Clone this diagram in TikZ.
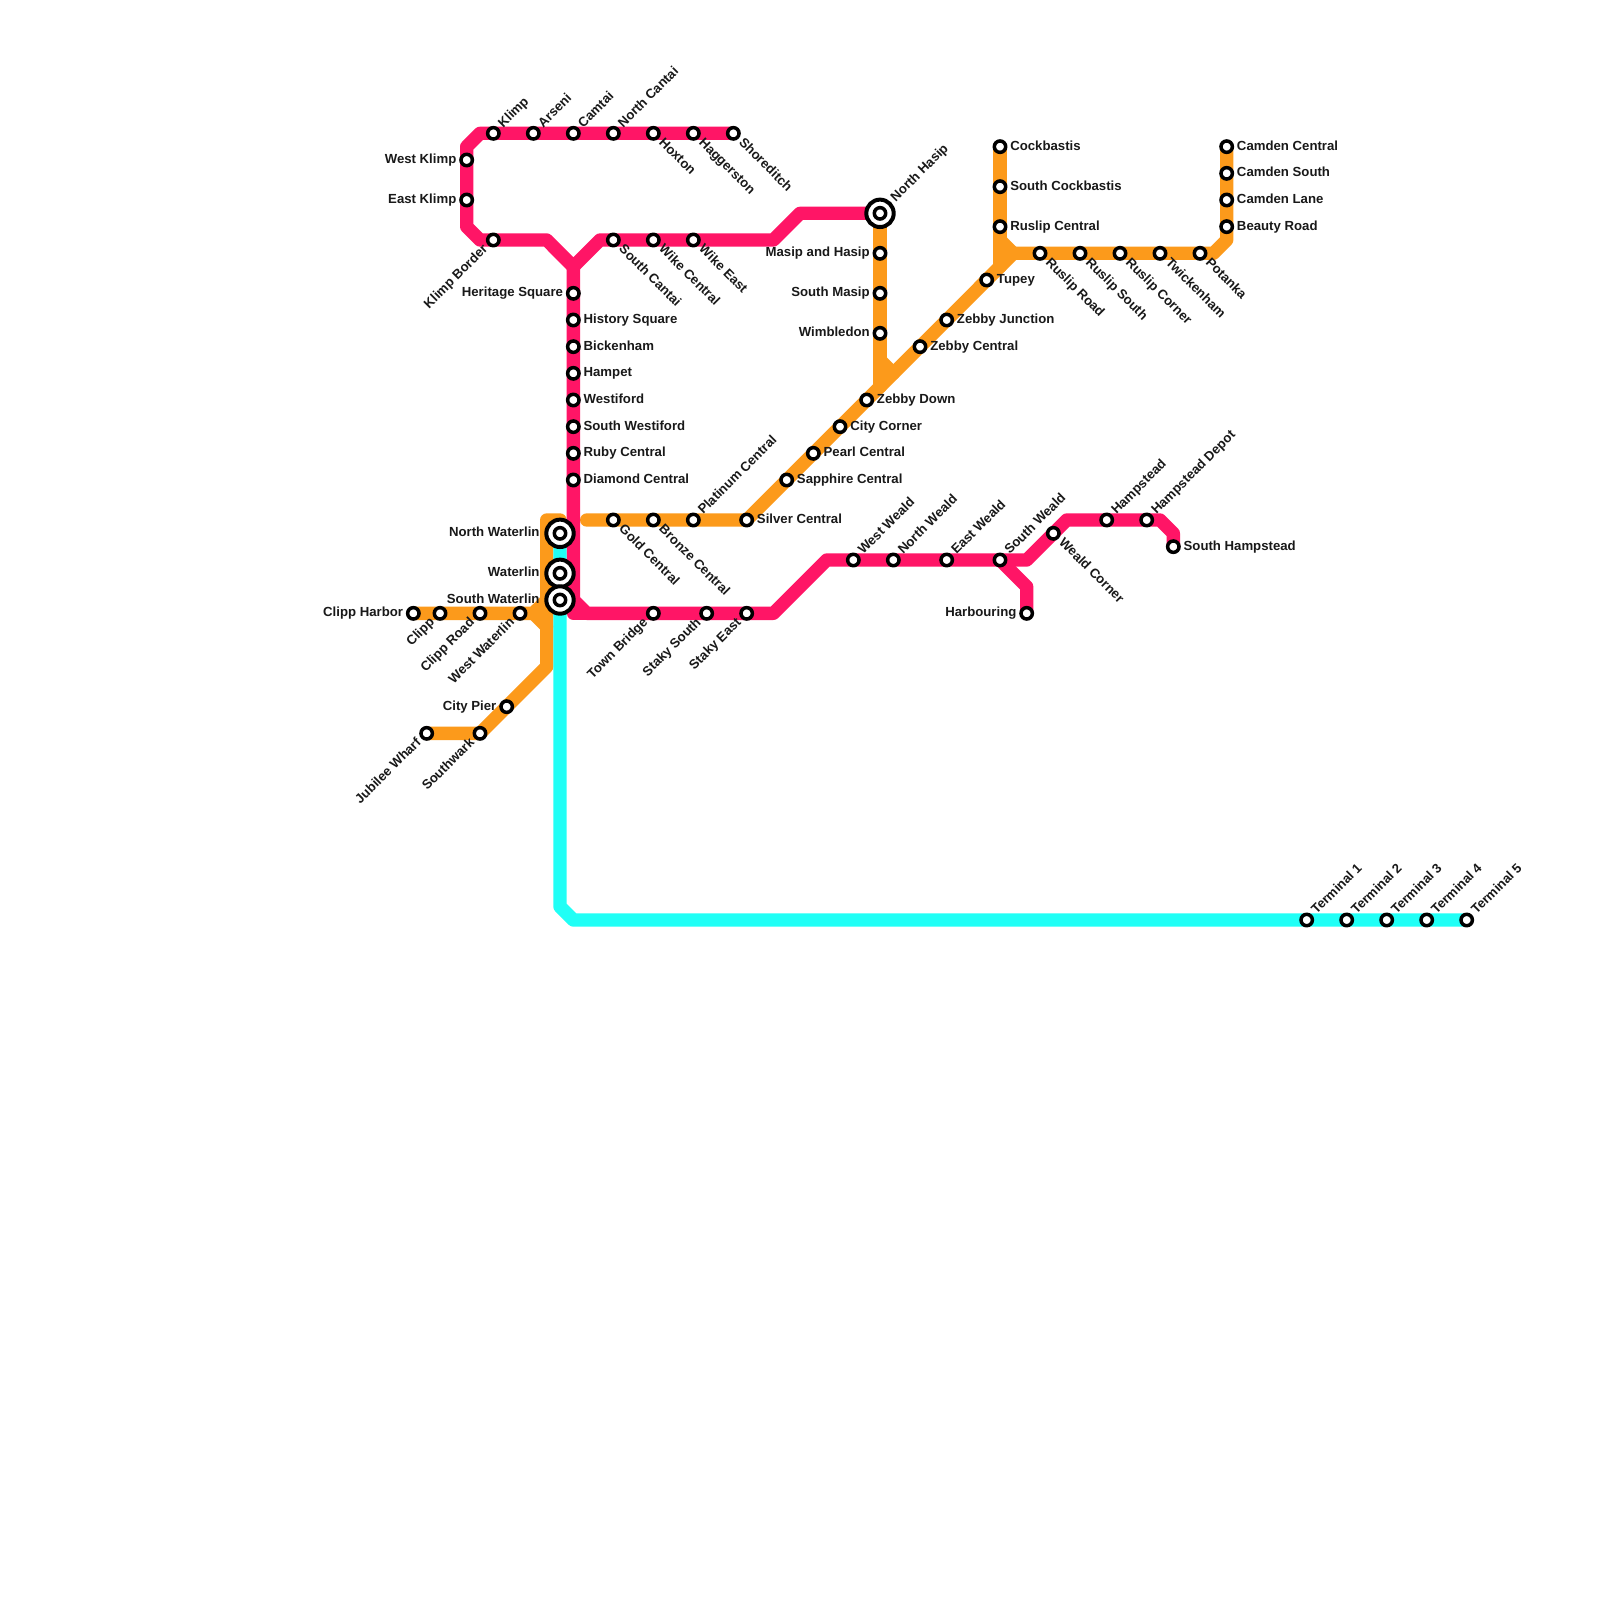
\documentclass[tikz,border=0pt]{standalone}
\usepackage{fontspec}
\setmainfont{Liberation Sans}
\usetikzlibrary{backgrounds}
\definecolor{lpink}{HTML}{FF1566}
\definecolor{lorange}{HTML}{FC9A1B}
\definecolor{lcyan}{HTML}{20FFF6}
\newcommand{\px}{0.01cm}
\tikzset{
 x=0.01cm,y=-0.01cm,
 lineb/.style={line width=13.33*\px,line cap=round,line join=round},
 pinkline/.style={lineb,draw=lpink},
 orangeline/.style={lineb,draw=lorange},
 cyanline/.style={lineb,draw=lcyan},
 stop/.style={circle,draw=black,fill=white,line width=3.5*\px,minimum size=11.4*\px,inner sep=0pt,outer sep=0pt},
 hub/.style={circle,draw=black,fill=white,line width=4*\px,minimum size=27.4*\px,inner sep=0pt,outer sep=0pt},
 lab/.style={inner sep=0pt,text=black!90},
 lR/.style={lab,anchor=mid west,xshift=9.6*\px},
 lL/.style={lab,anchor=mid east,xshift=-9.6*\px},
 lLL/.style={lab,anchor=mid east,xshift=-19.8*\px},
 lUR/.style={lab,anchor=mid west,xshift=7*\px,yshift=7*\px,rotate=45},
 lUU/.style={lab,anchor=mid west,xshift=13*\px,yshift=13*\px,rotate=45},
 lDR/.style={lab,anchor=mid west,xshift=7*\px,yshift=-7*\px,rotate=-45},
 lDL/.style={lab,anchor=mid east,xshift=-7*\px,yshift=-7*\px,rotate=45},
}
\newcommand{\stn}[5]{\node[stop] (#1) at (#2,#3) {};\node[#4] (#1-t) at (#2,#3) {#5};}
\newcommand{\hubstn}[5]{\node[hub] (#1) at (#2,#3) {};\node[stop] (#1-i) at (#2,#3) {};\node[#4] (#1-t) at (#2,#3) {#5};}
\begin{document}
\begin{tikzpicture}
\fontsize{3.75pt}{4pt}\selectfont\bfseries
\useasboundingbox (0,0) rectangle (1600,1600);
% top pink
\stn{klimp}{493.33}{133.33}{lUR}{Klimp}
\stn{arseni}{533.33}{133.33}{lUR}{Arseni}
\stn{camtai}{573.33}{133.33}{lUR}{Camtai}
\stn{ncantai}{613.33}{133.33}{lUR}{North Cantai}
\stn{hoxton}{653.33}{133.33}{lDR}{Hoxton}
\stn{hagg}{693.33}{133.33}{lDR}{Haggerston}
\stn{shore}{733.33}{133.33}{lDR}{Shoreditch}
\stn{wklimp}{466.67}{160}{lL}{West Klimp}
\stn{eklimp}{466.67}{200}{lL}{East Klimp}
\stn{kborder}{493.33}{240}{lDL}{Klimp Border}
\stn{scantai}{613.33}{240}{lDR}{South Cantai}
\stn{wikec}{653.33}{240}{lDR}{Wike Central}
\stn{wikee}{693.33}{240}{lDR}{Wike East}
\hubstn{nhasip}{880}{213.33}{lUU}{North Hasip}
\stn{masip}{880}{253.33}{lL}{Masip and Hasip}
\stn{smasip}{880}{293.33}{lL}{South Masip}
\stn{wimb}{880}{333.33}{lL}{Wimbledon}
\stn{herit}{573.33}{293.33}{lL}{Heritage Square}
\stn{hist}{573.33}{320}{lR}{History Square}
\stn{bick}{573.33}{346.67}{lR}{Bickenham}
\stn{hampet}{573.33}{373.33}{lR}{Hampet}
\stn{westi}{573.33}{400}{lR}{Westiford}
\stn{swesti}{573.33}{426.67}{lR}{South Westiford}
\stn{ruby}{573.33}{453.33}{lR}{Ruby Central}
\stn{diam}{573.33}{480}{lR}{Diamond Central}
\hubstn{nwat}{560}{533.33}{lLL}{North Waterlin}
\hubstn{wat}{560}{573.33}{lLL}{Waterlin}
\hubstn{swat}{560}{600}{lLL}{South Waterlin}
\stn{charb}{413.33}{613.33}{lL}{Clipp Harbor}
\stn{clipp}{440}{613.33}{lDL}{Clipp}
\stn{croad}{480}{613.33}{lDL}{Clipp Road}
\stn{wwat}{520}{613.33}{lDL}{West Waterlin}
\stn{cpier}{506.67}{706.67}{lL}{City Pier}
\stn{swark}{480}{733.33}{lDL}{Southwark}
\stn{jub}{426.67}{733.33}{lDL}{Jubilee Wharf}
\stn{gold}{613.33}{520}{lDR}{Gold Central}
\stn{bronze}{653.33}{520}{lDR}{Bronze Central}
\stn{plat}{693.33}{520}{lUR}{Platinum Central}
\stn{silver}{746.67}{520}{lR}{Silver Central}
\stn{town}{653.33}{613.33}{lDL}{Town Bridge}
\stn{stakys}{706.67}{613.33}{lDL}{Staky South}
\stn{stakye}{746.67}{613.33}{lDL}{Staky East}
\stn{sapph}{786.67}{480}{lR}{Sapphire Central}
\stn{pearl}{813.33}{453.33}{lR}{Pearl Central}
\stn{city}{840}{426.67}{lR}{City Corner}
\stn{zdown}{866.67}{400}{lR}{Zebby Down}
\stn{zcent}{920}{346.67}{lR}{Zebby Central}
\stn{zjunc}{946.67}{320}{lR}{Zebby Junction}
\stn{tupey}{986.67}{280}{lR}{Tupey}
\stn{cock}{1000}{146.67}{lR}{Cockbastis}
\stn{scock}{1000}{186.67}{lR}{South Cockbastis}
\stn{rcent}{1000}{226.67}{lR}{Ruslip Central}
\stn{rroad}{1040}{253.33}{lDR}{Ruslip Road}
\stn{rsouth}{1080}{253.33}{lDR}{Ruslip South}
\stn{rcorn}{1120}{253.33}{lDR}{Ruslip Corner}
\stn{twick}{1160}{253.33}{lDR}{Twickenham}
\stn{potanka}{1200}{253.33}{lDR}{Potanka}
\stn{camc}{1226.67}{146.67}{lR}{Camden Central}
\stn{cams}{1226.67}{173.33}{lR}{Camden South}
\stn{caml}{1226.67}{200}{lR}{Camden Lane}
\stn{beauty}{1226.67}{226.67}{lR}{Beauty Road}
\stn{wweald}{853.33}{560}{lUR}{West Weald}
\stn{nweald}{893.33}{560}{lUR}{North Weald}
\stn{eweald}{946.67}{560}{lUR}{East Weald}
\stn{sweald}{1000}{560}{lUR}{South Weald}
\stn{wcorner}{1053.33}{533.33}{lDR}{Weald Corner}
\stn{hamp}{1106.67}{520}{lUR}{Hampstead}
\stn{hdepot}{1146.67}{520}{lUR}{Hampstead Depot}
\stn{shamp}{1173.33}{546.67}{lR}{South Hampstead}
\stn{harb}{1026.67}{613.33}{lL}{Harbouring}
\stn{t1}{1306.67}{920}{lUR}{Terminal 1}
\stn{t2}{1346.67}{920}{lUR}{Terminal 2}
\stn{t3}{1386.67}{920}{lUR}{Terminal 3}
\stn{t4}{1426.67}{920}{lUR}{Terminal 4}
\stn{t5}{1466.67}{920}{lUR}{Terminal 5}
% bends
\coordinate (a1) at (480,133.33);
\coordinate (a2) at (466.67,146.67);
\coordinate (a3) at (466.67,226.67);
\coordinate (a4) at (480,240);
\coordinate (a5) at (546.67,240);
\coordinate (a6) at (573.33,266.67);
\coordinate (a7) at (600,240);
\coordinate (a8) at (773.33,240);
\coordinate (a9) at (800,213.33);
\coordinate (b1) at (573.33,600);
\coordinate (b2) at (586.67,613.33);
\coordinate (b3) at (573.33,613.33);
\coordinate (b4) at (773.33,613.33);
\coordinate (b5) at (826.67,560);
\coordinate (b6) at (1026.67,560);
\coordinate (b7) at (1066.67,520);
\coordinate (b8) at (1160,520);
\coordinate (b9) at (1173.33,533.33);
\coordinate (b10) at (1026.67,586.67);
\coordinate (o1) at (560,520);
\coordinate (o2) at (546.67,520);
\coordinate (o3) at (546.67,666.67);
\coordinate (o4) at (533.33,613.33);
\coordinate (o5) at (546.67,600);
\coordinate (o6) at (546.67,626.67);
\coordinate (o7) at (586.67,520);
\coordinate (o8) at (1013.33,253.33);
\coordinate (o9) at (1213.33,253.33);
\coordinate (o10) at (1226.67,240);
\coordinate (o11) at (1000,240);
\coordinate (o12) at (1000,266.67);
\coordinate (o13) at (880,360);
\coordinate (o14) at (893.33,373.33);
\coordinate (o15) at (880,386.67);
\coordinate (c1) at (560,906.67);
\coordinate (c2) at (573.33,920);
\begin{scope}[on background layer]
\fill[white] (0,0) rectangle (1600,1600);
\draw[orangeline] (o1) -- (o2) -- (o3) -- (swark.center) -- (jub.center);
\draw[orangeline] (charb.center) -- (o4) -- (o5);
\draw[orangeline] (o4) -- (o6);
\draw[orangeline] (o7) -- (silver.center) -- (o8) -- (o9) -- (o10) -- (camc.center);
\draw[orangeline] (cock.center) -- (o11) -- (o8);
\draw[orangeline] (cock.center) -- (o12);
\draw[orangeline] (nhasip.center) -- (o15);
\draw[orangeline] (o13) -- (o14);
\draw[pinkline] (shore.center) -- (a1) -- (a2) -- (a3) -- (a4) -- (a5) -- (a6) -- (a7) -- (a8) -- (a9) -- (nhasip.center);
\draw[pinkline] (a6) -- (b1) -- (b2) -- (b4) -- (b5) -- (b6) -- (b7) -- (b8) -- (b9) -- (shamp.center);
\draw[pinkline] (b1) -- (b3) -- (b2);
\draw[pinkline] (sweald.center) -- (b10) -- (harb.center);
\draw[cyanline] (nwat.center) -- (c1) -- (c2) -- (t5.center);
\end{scope}
\end{tikzpicture}
\end{document}
